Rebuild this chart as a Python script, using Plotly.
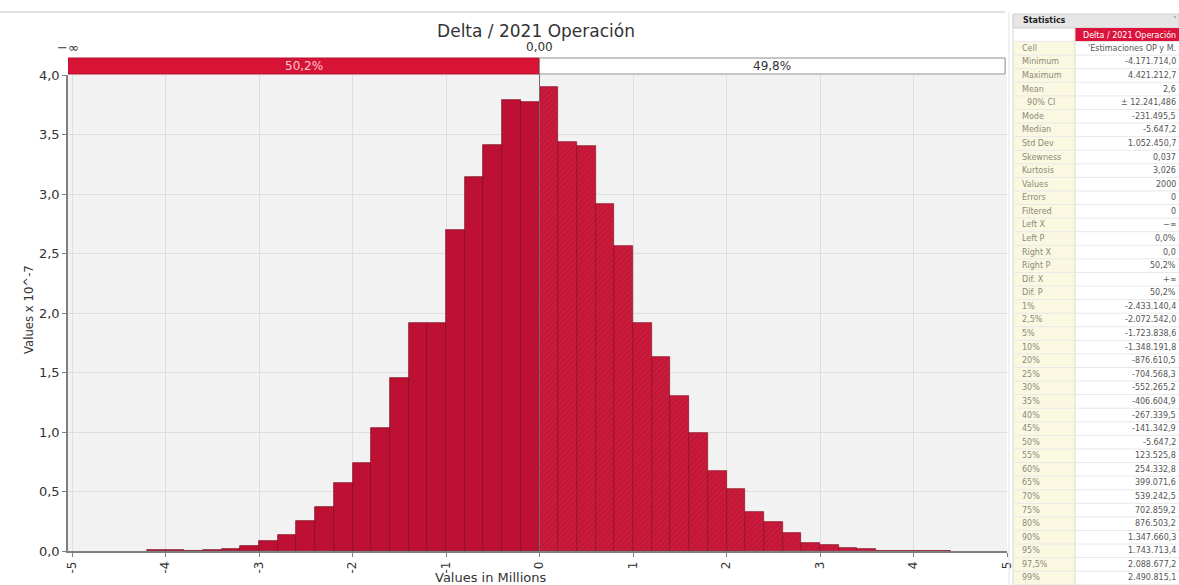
import plotly.graph_objects as go

# ---------------- data ----------------
bin_centers = [-4.1, -3.9, -3.7, -3.5, -3.3, -3.1, -2.9, -2.7, -2.5, -2.3, -2.1,
               -1.9, -1.7, -1.5, -1.3, -1.1, -0.9, -0.7, -0.5, -0.3, -0.1,
               0.1, 0.3, 0.5, 0.7, 0.9, 1.1, 1.3, 1.5, 1.7, 1.9,
               2.1, 2.3, 2.5, 2.7, 2.9, 3.1, 3.3, 3.5, 3.7, 3.9, 4.1, 4.3]
bin_values = [0.008, 0.006, 0.003, 0.006, 0.017, 0.04, 0.087, 0.134, 0.255, 0.367, 0.57,
              0.737, 1.03, 1.45, 1.92, 1.92, 2.70, 3.14, 3.41, 3.79, 3.77,
              3.90, 3.44, 3.40, 2.92, 2.56, 1.92, 1.63, 1.30, 0.99, 0.67,
              0.52, 0.33, 0.246, 0.154, 0.065, 0.048, 0.023, 0.014, 0.004, 0.004, 0.003, 0.003]
bin_width = 0.2

x_ticks = [-5, -4, -3, -2, -1, 0, 1, 2, 3, 4, 5]
x_tick_text = ["-5", "-4", "-3", "-2", "-1", "0", "1", "2", "3", "4", "5"]
y_ticks = [0.0, 0.5, 1.0, 1.5, 2.0, 2.5, 3.0, 3.5, 4.0]

split_value = 0.0
left_label = "\u2212\u221e"
split_label = "0,00"
left_certainty = "50,2%"
right_certainty = "49,8%"

stat_title = "Statistics"
stat_header = "Delta / 2021 Operación"
stat_labels = ["Cell", "Minimum", "Maximum", "Mean", "  90% CI", "Mode", "Median", "Std Dev",
               "Skewness", "Kurtosis", "Values", "Errors", "Filtered", "Left X", "Left P",
               "Right X", "Right P", "Dif. X", "Dif. P", "1%", "2,5%", "5%", "10%", "20%",
               "25%", "30%", "35%", "40%", "45%", "50%", "55%", "60%", "65%", "70%", "75%",
               "80%", "90%", "95%", "97,5%", "99%"]
stat_values = ["'Estimaciones OP y M.", "-4.171.714,0", "4.421.212,7",
               "2,6", "± 12.241,486", "-231.495,5", "-5.647,2", "1.052.450,7", "0,037", "3,026",
               "2000", "0", "0", "\u2212\u221e", "0,0%", "0,0", "50,2%", "+\u221e", "50,2%",
               "-2.433.140,4", "-2.072.542,0", "-1.723.838,6", "-1.348.191,8", "-876.610,5",
               "-704.568,3", "-552.265,2", "-406.604,9", "-267.339,5", "-141.342,9", "-5.647,2",
               "123.525,8", "254.332,8", "399.071,6", "539.242,5", "702.859,2", "876.503,2",
               "1.347.660,3", "1.743.713,4", "2.088.677,2", "2.490.815,1"]

# ---------------- layout helpers (paper == whole figure) ----------------
W, H = 1179, 585
PLOT_L, PLOT_R, PLOT_T, PLOT_B = 68, 1007, 75, 551
XMIN, XMAX = -5.043, 5.0
YMAX = 4.0

# statistics panel geometry (pixels)
T_L, T_M, T_R = 1013, 1075, 1179
T_TOP, T_HDR = 14, 28
ROW_H = 13.58

def px(x):
    return x / W

def py(y):
    return 1 - y / H

neg_x = [c for c in bin_centers if c < split_value]
neg_y = [v for c, v in zip(bin_centers, bin_values) if c < split_value]
pos_x = [c for c in bin_centers if c > split_value]
pos_y = [v for c, v in zip(bin_centers, bin_values) if c > split_value]

fig = go.Figure()
fig.add_trace(go.Bar(
    x=neg_x, y=neg_y, width=bin_width,
    marker=dict(color="#BE1032", line=dict(color="#7A0A1E", width=0.7)),
    hoverinfo="x+y", showlegend=False))
fig.add_trace(go.Bar(
    x=pos_x, y=pos_y, width=bin_width,
    marker=dict(color="#CC1A3C", line=dict(color="#8A0E24", width=0.7),
                pattern=dict(shape="/", fgcolor="#9A0F28", bgcolor="#CC1A3C",
                             size=4, solidity=0.25, fillmode="overlay")),
    hoverinfo="x+y", showlegend=False))

# markers above the certainty bar
mark_y = YMAX + (PLOT_T - 61) / (PLOT_B - PLOT_T) * YMAX
fig.add_trace(go.Scatter(
    x=[XMIN, split_value], y=[mark_y, mark_y],
    mode="markers", cliponaxis=False, showlegend=False, hoverinfo="skip",
    marker=dict(symbol="triangle-down", size=9, color="#333333")))

shapes = [
    dict(type="line", xref="paper", yref="paper", x0=0, x1=px(1005),
         y0=py(12), y1=py(12), line=dict(color="#E2E2E2", width=2)),
    dict(type="rect", xref="x", yref="paper", x0=XMIN, x1=split_value,
         y0=py(74), y1=py(58), fillcolor="#D81436", line=dict(color="#B01030", width=1)),
    dict(type="rect", xref="x", yref="paper", x0=split_value, x1=4.98,
         y0=py(74), y1=py(58), fillcolor="#FFFFFF", line=dict(color="#8C8C8C", width=1)),
    dict(type="line", xref="x", yref="paper", x0=split_value, x1=split_value,
         y0=py(PLOT_B), y1=py(74), line=dict(color="#6E6E6E", width=1), layer="above"),
    # right border of chart panel
    dict(type="line", xref="paper", yref="paper", x0=px(1009), x1=px(1009),
         y0=0, y1=py(12), line=dict(color="#E4E4E4", width=1)),
]

# statistics panel backgrounds
rows_bottom = T_HDR + ROW_H * (len(stat_labels) + 1)
shapes += [
    dict(type="rect", xref="paper", yref="paper", x0=px(T_L), x1=px(T_R),
         y0=py(T_HDR), y1=py(T_TOP), fillcolor="#E6E6E6", line=dict(color="#D0D0D0", width=1)),
    dict(type="rect", xref="paper", yref="paper", x0=px(T_L), x1=px(T_M),
         y0=py(rows_bottom), y1=py(T_HDR + ROW_H), fillcolor="#FBF8E1", line=dict(width=0)),
    dict(type="rect", xref="paper", yref="paper", x0=px(T_M), x1=px(T_R),
         y0=py(T_HDR + ROW_H), y1=py(T_HDR), fillcolor="#DC143C", line=dict(width=0)),
    dict(type="line", xref="paper", yref="paper", x0=px(T_M), x1=px(T_M),
         y0=py(rows_bottom), y1=py(T_HDR), line=dict(color="#E0DCC0", width=1)),
    dict(type="line", xref="paper", yref="paper", x0=px(T_L), x1=px(T_L),
         y0=py(rows_bottom), y1=py(T_TOP), line=dict(color="#D8D8D8", width=1)),
]
for i in range(len(stat_labels) + 1):
    yb = T_HDR + ROW_H * (i + 1)
    shapes.append(dict(type="line", xref="paper", yref="paper", x0=px(T_L), x1=px(T_R),
                       y0=py(yb), y1=py(yb), line=dict(color="#E8E8E8", width=1)))

def ann(text, x, y, xref="paper", size=12, color="#333333", family="DejaVu Sans", angle=0,
        xanchor="center"):
    return dict(text=text, x=x, y=y, xref=xref, yref="paper", showarrow=False,
                xanchor=xanchor, yanchor="middle", textangle=angle,
                font=dict(family=family, size=size, color=color))

annotations = [
    ann(left_label, XMIN, py(47), xref="x", size=13),
    ann(split_label, split_value, py(47), xref="x", size=12),
    ann(left_certainty, (XMIN + split_value) / 2, py(66), xref="x", size=12, color="#F6C8D2"),
    ann(right_certainty, (split_value + 4.98) / 2, py(66), xref="x", size=12),
    ann("Values in Millions", px(490), py(577), size=13),
    ann("Values x 10^-7", px(28), py(310), size=13,
        family="Liberation Sans Narrow, DejaVu Sans Condensed, sans-serif", angle=-90),
    ann("<b>" + stat_title + "</b>", px(T_L + 8), py((T_TOP + T_HDR) / 2), size=8,
        color="#222222", xanchor="left"),
    ann("\u02c5", px(T_R - 4), py((T_TOP + T_HDR) / 2), size=8, color="#777777"),
    ann(stat_header.replace(" ", "\u00a0"), px(T_R - 1), py(T_HDR + ROW_H / 2), size=8,
        color="#FFFFFF", xanchor="right"),
]
for i, (lab, val) in enumerate(zip(stat_labels, stat_values)):
    yc = T_HDR + ROW_H * (i + 1.5)
    annotations.append(ann(lab.replace(" ", "\u00a0"), px(T_L + 7), py(yc), size=8,
                           color="#8A8A7A", xanchor="left"))
    annotations.append(ann(val.replace(" ", "\u00a0"), px(T_R - 1), py(yc), size=8,
                           color="#555555", xanchor="right"))

fig.update_layout(
    width=W, height=H,
    margin=dict(l=0, r=0, t=0, b=0, autoexpand=False),
    paper_bgcolor="#FFFFFF", plot_bgcolor="#F2F2F2",
    separators=",.",
    bargap=0,
    barmode="overlay",
    title=dict(text="Delta / 2021 Operación", x=px(536), xanchor="center",
               y=py(31), yanchor="middle", yref="container",
               font=dict(family="DejaVu Sans", size=17, color="#333333")),
    xaxis=dict(domain=[px(PLOT_L), px(PLOT_R)], range=[XMIN, XMAX],
               tickvals=x_ticks, ticktext=x_tick_text, tickangle=-90,
               showgrid=True, gridcolor="#DEDEDE", gridwidth=1, zeroline=False,
               showline=True, linecolor="#7F7F7F", linewidth=1.5,
               ticks="outside", ticklen=4, tickcolor="#7F7F7F",
               tickfont=dict(family="DejaVu Sans", size=12, color="#333333")),
    yaxis=dict(domain=[py(PLOT_B), py(PLOT_T)], range=[0, YMAX],
               tickvals=y_ticks, tickformat=".1f",
               showgrid=True, gridcolor="#DEDEDE", gridwidth=1, zeroline=False,
               showline=True, linecolor="#7F7F7F", linewidth=1.5,
               ticks="outside", ticklen=4, tickcolor="#7F7F7F",
               tickfont=dict(family="DejaVu Sans", size=13, color="#333333")),
    shapes=shapes,
    annotations=annotations,
)

fig.write_html("out.html")
